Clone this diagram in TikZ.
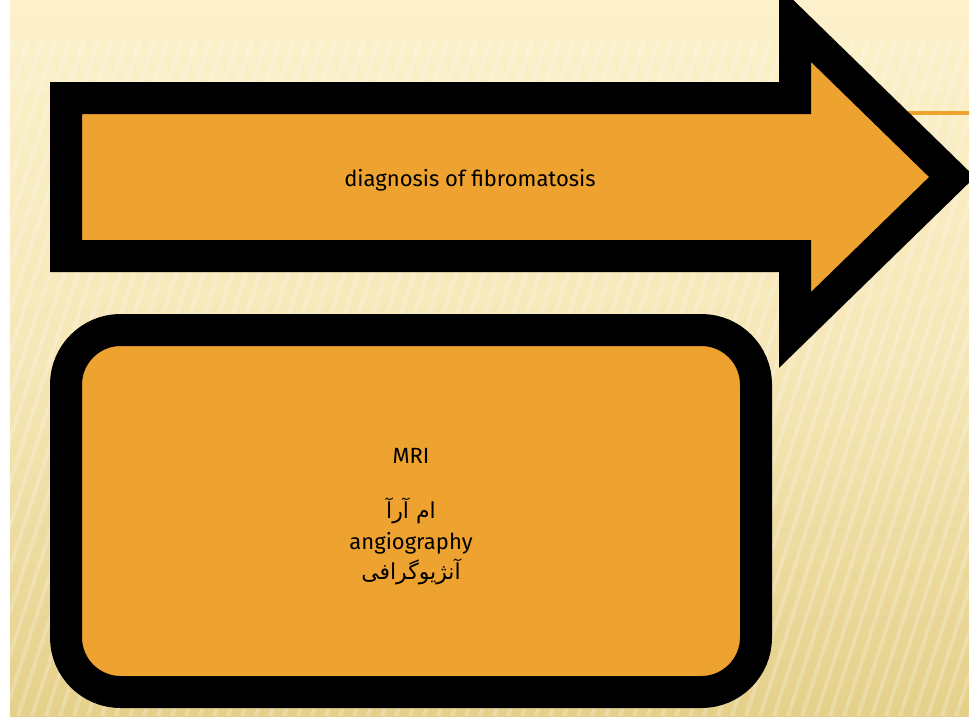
\documentclass[tikz,border=0pt]{standalone}
\usepackage{fontspec}
\setmainfont{Fira Sans}
\newfontfamily\arabicfont[Script=Arabic]{DejaVu Sans}
\TeXXeTstate=1
\definecolor{slidetop}{RGB}{252,241,203}
\definecolor{slidebot}{RGB}{229,208,138}
\definecolor{boxorange}{RGB}{238,162,47}
\tikzset{
    outline/.style={draw=black, line width=24pt, line join=miter, fill=boxorange},
    stripe/.style={white, line width=3pt, opacity=0.22},
    label/.style={font=\fontsize{16.5}{23}\selectfont, align=center}
}
\begin{document}
\begin{tikzpicture}[x=0.75pt, y=-0.75pt]
    \useasboundingbox (0,0) rectangle (969,719);
    \fill[white] (0,0) rectangle (969,719);
    \shade[top color=slidetop, bottom color=slidebot, middle color=slidetop!70!slidebot] (10,0) rectangle (969,716);
    \begin{scope}
        \clip (10,40) rectangle (969,716);
        \foreach \i in {0,14,...,1400}
            \draw[stripe] (\i-220,716) -- (\i,40);
    \end{scope}
    \draw[boxorange, line width=2.4pt] (880,113) -- (969,113);
    % arrow
    \draw[outline] (66,98) -- (795,98) -- (795,24) -- (952,177) -- (795,330) -- (795,256) -- (66,256) -- cycle;
    \node[label] (diag) at (470,180) {diagnosis of fibromatosis};
    % box
    \node[outline, rounded corners=41pt, minimum width=517.5pt, minimum height=271.5pt] (imaging) at (411,511) {};
    \node[label] (methods) at (411,517) {MRI\\[18pt]
        {\arabicfont\beginR ام آرآ\endR}\\
        angiography\\
        {\arabicfont\beginR آنژیوگرافی\endR}};
\end{tikzpicture}
\end{document}
